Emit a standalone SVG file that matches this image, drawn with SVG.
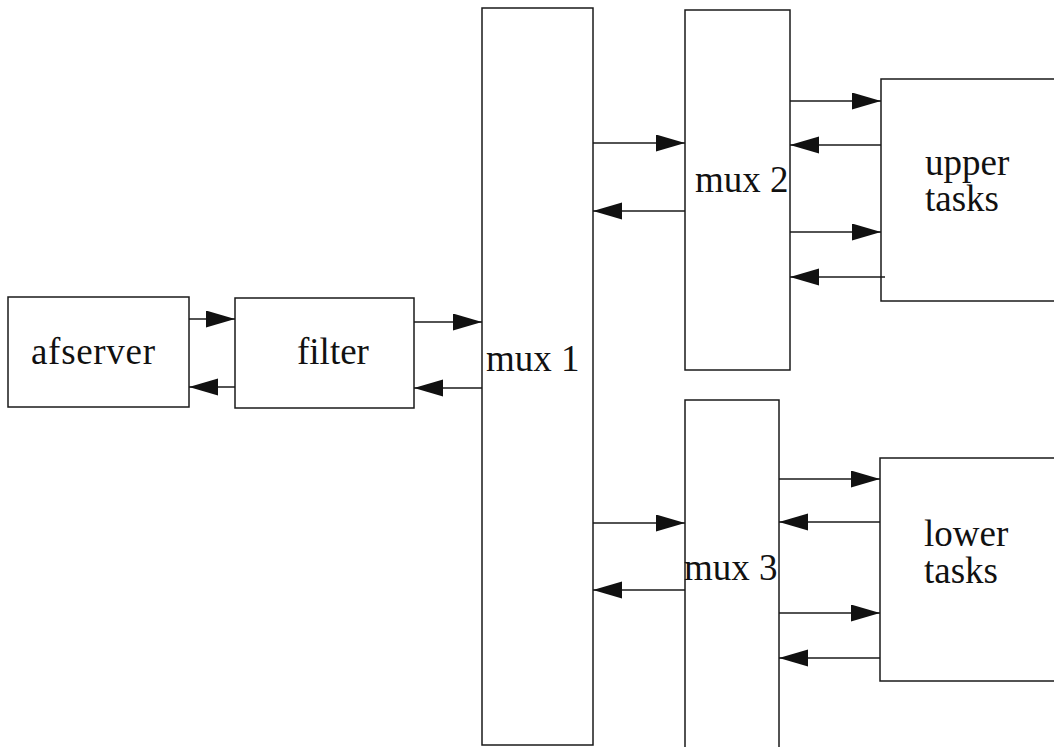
<svg xmlns="http://www.w3.org/2000/svg" width="1054" height="747" viewBox="0 0 1054 747">
<style>
.box{fill:#fff;stroke:#1a1a1a;stroke-width:1.5}
.lbl{font-family:"Liberation Serif","Times New Roman",serif;font-size:37px;fill:#111}
.c{stroke:#1a1a1a;stroke-width:1.5;fill:none;marker-end:url(#ah)}
</style>
<defs>
<marker id="ah" markerUnits="userSpaceOnUse" markerWidth="30" markerHeight="18" refX="29" refY="8.5" orient="auto">
<path d="M0,0 L29,8.5 L0,17 z" fill="#111"/>
</marker>
</defs>
<rect width="1054" height="747" fill="#fff"/>
<g id="afserver"><rect class="box" x="8" y="297" width="181" height="110"/><text class="lbl" x="31" y="364" textLength="124">afserver</text></g>
<g id="filter"><rect class="box" x="235" y="298" width="179" height="110"/><text class="lbl" x="297" y="364">filter</text></g>
<g id="mux1"><rect class="box" x="482" y="8" width="111" height="737"/><text class="lbl" x="486" y="371">mux 1</text></g>
<g id="mux2"><rect class="box" x="685" y="10" width="105" height="360"/><text class="lbl" x="695" y="192">mux 2</text></g>
<g id="mux3"><rect class="box" x="685" y="400" width="94" height="360"/><text class="lbl" x="684" y="580">mux 3</text></g>
<g id="upper"><rect class="box" x="881" y="79" width="200" height="222"/><text class="lbl" x="925" y="175">upper</text><text class="lbl" x="925" y="211">tasks</text></g>
<g id="lower"><rect class="box" x="880" y="458" width="200" height="223"/><text class="lbl" x="924" y="546">lower</text><text class="lbl" x="924" y="583">tasks</text></g>
<g id="connectors">
<line class="c" x1="189" y1="319" x2="235" y2="319"/>
<line class="c" x1="235" y1="387" x2="189" y2="387"/>
<line class="c" x1="414" y1="322" x2="482" y2="322"/>
<line class="c" x1="482" y1="388" x2="414" y2="388"/>
<line class="c" x1="593" y1="143" x2="685" y2="143"/>
<line class="c" x1="685" y1="211" x2="593" y2="211"/>
<line class="c" x1="790" y1="101" x2="881" y2="101"/>
<line class="c" x1="881" y1="145" x2="790" y2="145"/>
<line class="c" x1="790" y1="232" x2="881" y2="232"/>
<line class="c" x1="885" y1="277" x2="790" y2="277"/>
<line class="c" x1="593" y1="523" x2="685" y2="523"/>
<line class="c" x1="685" y1="590" x2="593" y2="590"/>
<line class="c" x1="779" y1="479" x2="880" y2="479"/>
<line class="c" x1="880" y1="522" x2="779" y2="522"/>
<line class="c" x1="779" y1="613" x2="880" y2="613"/>
<line class="c" x1="880" y1="658" x2="779" y2="658"/>
</g>
</svg>
